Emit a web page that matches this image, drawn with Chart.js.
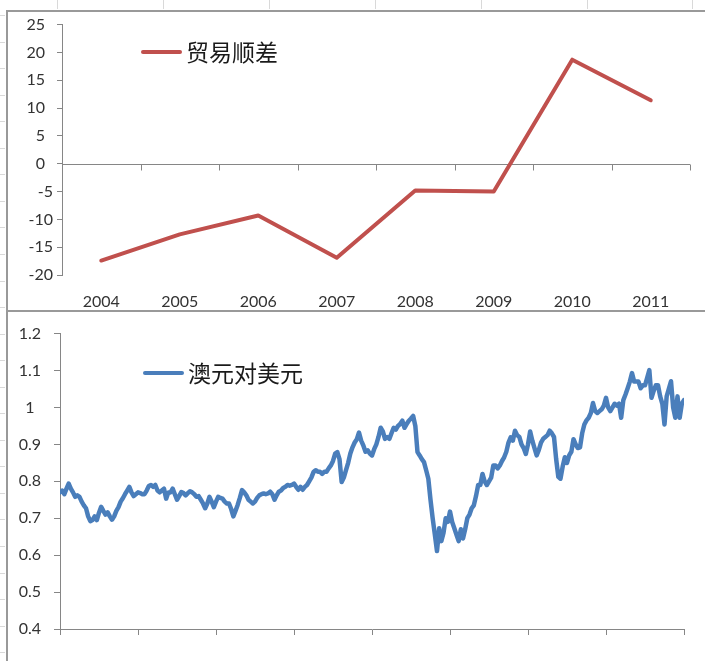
<!DOCTYPE html>
<html><head><meta charset="utf-8">
<script src="https://cdn.jsdelivr.net/npm/chart.js@4.4.1/dist/chart.umd.min.js"></script>
<style>
html,body{margin:0;padding:0;background:#fff;width:705px;height:661px;overflow:hidden;position:relative;font-family:Lato,sans-serif;}
.ln{position:absolute;background:#999;}
.sg{position:absolute;background:#d9d9d9;}
#c1wrap{position:absolute;left:7px;top:11px;width:698px;height:300px;}
#c2wrap{position:absolute;left:7px;top:311px;width:698px;height:350px;}
.legend{position:absolute;display:flex;align-items:center;font-family:"Noto Sans CJK SC",sans-serif;font-size:23px;line-height:23px;color:#1a1a1a;white-space:nowrap;}
.legend .l{display:inline-block;width:41px;height:4px;margin-right:4px;border-radius:2px;}
</style></head>
<body>
<div id="sheet"></div>
<div id="c1wrap"><canvas id="c1" width="698" height="300"></canvas></div>
<div id="c2wrap"><canvas id="c2" width="698" height="350"></canvas></div>
<div class="ln" style="left:7px;top:10px;width:698px;height:2px"></div>
<div class="ln" style="left:6px;top:10px;width:2px;height:651px"></div>
<div class="ln" style="left:7px;top:310px;width:698px;height:2px"></div>
<div class="legend" id="lg1" style="left:141px;top:40px"><span class="l" style="background:#c0504d"></span>贸易顺差</div>
<div class="legend" id="lg2" style="left:143px;top:361px"><span class="l" style="background:#4a7ebb"></span>澳元对美元</div>
<script>
// ---- data ----
const tradeYears = ['2004','2005','2006','2007','2008','2009','2010','2011'];
const tradeBalance = [-17.4, -12.7, -9.3, -16.9, -4.8, -5.0, 18.7, 11.4];
const tradeAxis = [-20, 25, 5];          // min, max, step

const audStartYear = 2004;
const audEndYear = 2012;
const audPointsPerYear = 36;
const audUsd = [
0.770,0.775,0.765, 0.780,0.794,0.780, 0.770,0.758,0.762, 0.758,0.745,0.735, 0.727,0.705,0.692, 0.695,0.705,0.695, 0.715,0.731,0.720, 0.710,0.716,0.705, 0.696,0.705,0.720, 0.730,0.745,0.754, 0.765,0.775,0.785, 0.770,0.760,0.765,
0.770,0.768,0.765, 0.765,0.775,0.787, 0.790,0.785,0.790, 0.775,0.770,0.775, 0.780,0.753,0.770, 0.770,0.780,0.765, 0.750,0.760,0.771, 0.768,0.762,0.768, 0.773,0.770,0.765, 0.758,0.760,0.750, 0.740,0.727,0.740, 0.758,0.745,0.730,
0.745,0.758,0.755, 0.753,0.745,0.740, 0.740,0.725,0.705, 0.720,0.736,0.755, 0.776,0.770,0.762, 0.750,0.745,0.740, 0.745,0.755,0.762, 0.765,0.767,0.765, 0.767,0.772,0.765, 0.750,0.762,0.772, 0.775,0.782,0.785, 0.790,0.788,0.790,
0.794,0.785,0.777, 0.785,0.777,0.785, 0.790,0.800,0.810, 0.825,0.830,0.826, 0.826,0.820,0.826, 0.826,0.835,0.843, 0.855,0.875,0.879, 0.860,0.798,0.810, 0.830,0.850,0.875, 0.892,0.905,0.914, 0.932,0.910,0.897, 0.880,0.884,0.875,
0.870,0.887,0.900, 0.920,0.945,0.935, 0.915,0.920,0.915, 0.930,0.945,0.940, 0.950,0.955,0.964, 0.945,0.955,0.964, 0.970,0.977,0.950, 0.879,0.870,0.860, 0.852,0.830,0.807, 0.750,0.700,0.656, 0.611,0.673,0.638, 0.660,0.700,0.690,
0.718,0.690,0.673, 0.655,0.638,0.670, 0.645,0.670,0.700, 0.710,0.727,0.735, 0.760,0.790,0.790, 0.820,0.800,0.790, 0.800,0.810,0.843, 0.843,0.835,0.843, 0.855,0.865,0.880, 0.905,0.919,0.910, 0.937,0.925,0.920, 0.900,0.890,0.874,
0.900,0.935,0.910, 0.890,0.870,0.885, 0.905,0.915,0.920, 0.925,0.937,0.930, 0.920,0.860,0.812, 0.807,0.840,0.865, 0.850,0.870,0.880, 0.914,0.900,0.890, 0.892,0.930,0.954, 0.965,0.972,0.985, 1.012,0.990,0.985, 0.990,0.995,1.005,
1.026,1.000,0.990, 1.000,1.010,1.005, 1.010,0.972,1.020, 1.035,1.052,1.070, 1.093,1.070,1.070, 1.070,1.052,1.060, 1.060,1.080,1.101, 1.026,1.045,1.060, 1.060,1.030,1.010, 0.954,1.030,1.050, 1.071,1.000,0.972, 1.030,0.972,1.010,
1.020
];
const audAxis = [0.4, 1.2, 0.1];

// ---- sheet gridline decoration ----
(function(){
  const s = document.getElementById('sheet');
  [57,163,269,375,481,587,692].forEach(x=>{const d=document.createElement('div');d.className='sg';d.style.cssText=`left:${x}px;top:0;width:1px;height:9px`;s.appendChild(d);});
  for(let k=0;k<25;k++){const y=Math.round(15+k*26.55);const d=document.createElement('div');d.className='sg';d.style.cssText=`left:0;top:${y}px;width:5px;height:1px`;s.appendChild(d);}
})();

Chart.defaults.font.family = 'Lato, sans-serif';
Chart.defaults.font.size = 16;
Chart.defaults.color = '#333';

const axisGray = '#868686';

const zeroAxis = {
  id:'zeroAxis',
  beforeDatasetsDraw(chart){
    const {ctx, chartArea:a, scales:{x,y}} = chart;
    const y0 = Math.round(y.getPixelForValue(0)) + 0.5;
    ctx.save(); ctx.strokeStyle = axisGray; ctx.lineWidth = 1;
    ctx.beginPath(); ctx.moveTo(a.left, y0); ctx.lineTo(a.right, y0);
    const n = tradeYears.length;
    for(let i=1;i<=n;i++){
      const px = Math.round(i<n ? (x.getPixelForValue(i-1)+x.getPixelForValue(i))/2 : a.right) + 0.5;
      ctx.moveTo(px, y0); ctx.lineTo(px, y0+6);
    }
    ctx.stroke(); ctx.restore();
  }
};

new Chart(document.getElementById('c1'), {
  type:'line',
  data:{labels:tradeYears, datasets:[{label:'贸易顺差', data:tradeBalance, borderColor:'#c0504d', backgroundColor:'#c0504d', borderWidth:4, pointRadius:0, tension:0, borderJoinStyle:'round', borderCapStyle:'round'}]},
  options:{
    responsive:false, animation:false, devicePixelRatio:1,
    layout:{padding:{top:11,right:15,left:0,bottom:0}},
    plugins:{legend:{display:false}, tooltip:{enabled:false}},
    scales:{
      x:{type:'category', offset:true, grid:{display:false, drawTicks:false}, border:{display:false},
         ticks:{padding:17, maxRotation:0, autoSkip:false},
         afterFit(s){ s.height = 36; }},
      y:{min:tradeAxis[0], max:tradeAxis[1],
         ticks:{stepSize:tradeAxis[2], padding:4, callback:v=> v>=0 ? v+'\u2002' : String(v)},
         grid:{drawOnChartArea:false, color:axisGray, tickLength:5},
         border:{display:true, color:axisGray},
         afterFit(s){ s.width = 55; }}
    }
  },
  plugins:[zeroAxis]
});

const audPoints = audUsd.map((v,i)=>({x: audStartYear + i/audPointsPerYear, y: v}));

new Chart(document.getElementById('c2'), {
  type:'line',
  data:{datasets:[{label:'澳元对美元', data:audPoints, borderColor:'#4a7ebb', backgroundColor:'#4a7ebb', borderWidth:4.5, pointRadius:0, tension:0, borderJoinStyle:'round', borderCapStyle:'round'}]},
  options:{
    responsive:false, animation:false, devicePixelRatio:1,
    layout:{padding:{top:19,right:21,left:0,bottom:0}},
    plugins:{legend:{display:false}, tooltip:{enabled:false}},
    scales:{
      x:{type:'linear', min:audStartYear, max:audEndYear,
         ticks:{stepSize:1, display:false},
         grid:{drawOnChartArea:false, color:axisGray, tickLength:6},
         border:{display:true, color:axisGray},
         afterFit(s){ s.height = 32; }},
      y:{min:audAxis[0], max:audAxis[1],
         ticks:{stepSize:audAxis[2], padding:13, crossAlign:'center', callback:v=>String(Number(v.toFixed(1)))},
         grid:{drawOnChartArea:false, color:axisGray, tickLength:6},
         border:{display:true, color:axisGray},
         afterFit(s){ s.width = 53; }}
    }
  }
});
</script>
</body></html>
